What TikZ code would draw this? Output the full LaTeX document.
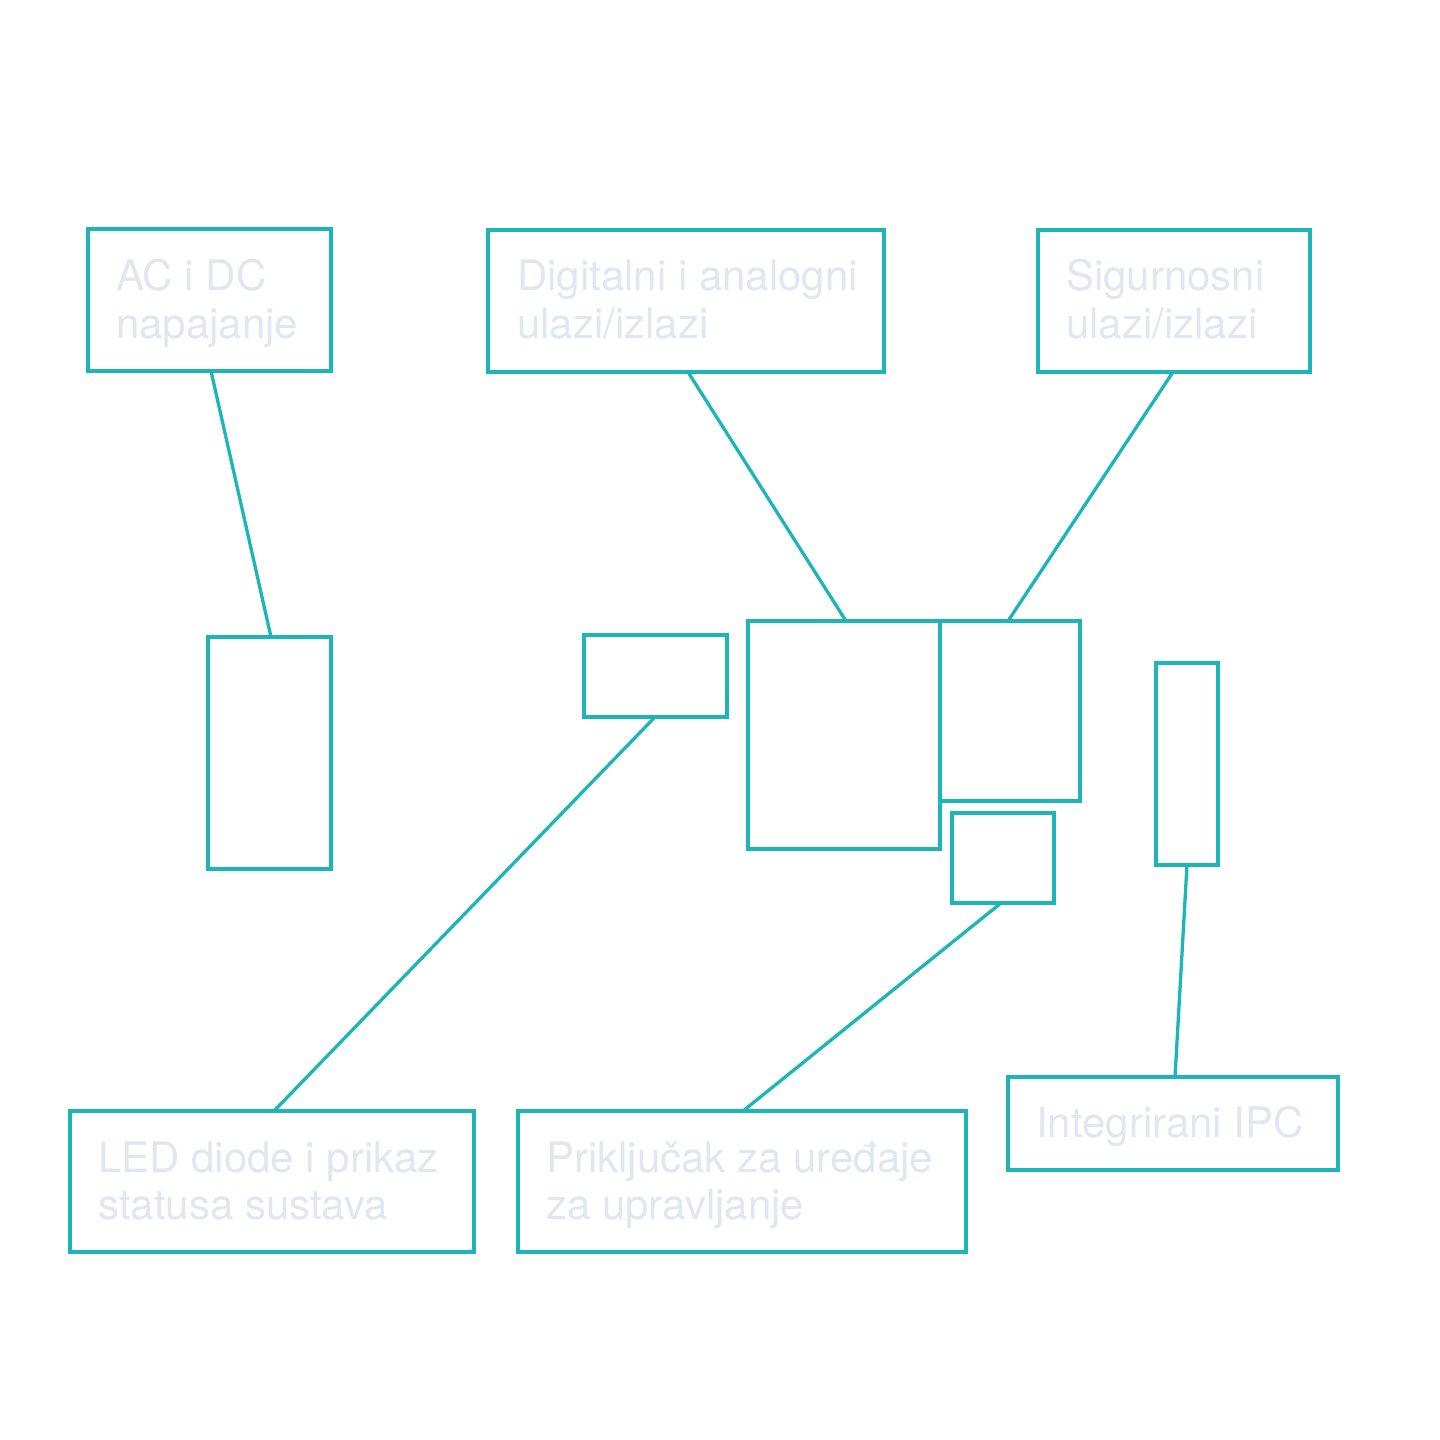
\documentclass[tikz,border=0pt]{standalone}
\usepackage{fontspec}
\setmainfont{TeX Gyre Heros}
\definecolor{teal}{HTML}{1DB5B8}
\definecolor{pale}{HTML}{DFE7F0}
\begin{document}
\begin{tikzpicture}[x=1pt,y=-1pt,
  box/.style={draw=teal,line width=3.3pt,fill=none},
  wire/.style={draw=teal,line width=3.3pt},
  lbl/.style={anchor=base west,inner sep=0pt,text=pale,font=\fontsize{42}{48}\selectfont}]
\useasboundingbox (0,0) rectangle (1440,1440);
% label boxes
\draw[box] (88,229) rectangle (331,371);
\draw[box] (488,230) rectangle (884,372);
\draw[box] (1038,230) rectangle (1310,372);
\draw[box] (70,1111) rectangle (474,1252);
\draw[box] (518,1111) rectangle (966,1252);
\draw[box] (1008,1077) rectangle (1338,1170);
% attachment points of label boxes
\coordinate (ac) at (211,371);
\coordinate (dig) at (688,372);
\coordinate (sig) at (1173,372);
\coordinate (led) at (274,1111);
\coordinate (pri) at (743,1111);
\coordinate (ipc) at (1175,1077);
% device parts
\draw[box] (208,637) rectangle (331,869);
\draw[box] (584,635) rectangle (727,717);
\draw[box] (748,621) rectangle (940,849);
\draw[box] (940,621) rectangle (1080,801);
\draw[box] (952,813) rectangle (1054,903);
\draw[box] (1156,663) rectangle (1218,865);
\coordinate (pw) at (271,637);
\coordinate (ledp) at (655,717);
\coordinate (big) at (846,621);
\coordinate (rt) at (1008,621);
\coordinate (con) at (1001,903);
\coordinate (ipcp) at (1187,865);
% connectors
\draw[wire] (ac) -- (pw);
\draw[wire] (dig) -- (big);
\draw[wire] (sig) -- (rt);
\draw[wire] (ledp) -- (led);
\draw[wire] (con) -- (pri);
\draw[wire] (ipcp) -- (ipc);
% texts
\node[lbl] (t1) at (116,290) {AC i DC};
\node[lbl] (t2) at (116,338) {napajanje};
\node[lbl] (t3) at (517,290) {Digitalni i analogni};
\node[lbl] (t4) at (517,338) {ulazi/izlazi};
\node[lbl] (t5) at (1066,290) {Sigurnosni};
\node[lbl] (t6) at (1066,338) {ulazi/izlazi};
\node[lbl] (t7) at (98,1172) {LED diode i prikaz};
\node[lbl] (t8) at (98,1219) {statusa sustava};
\node[lbl] (t9) at (546,1172) {Priključak za uređaje};
\node[lbl] (t10) at (546,1219) {za upravljanje};
\node[lbl] (t11) at (1036,1137) {Integrirani IPC};
\end{tikzpicture}
\end{document}
